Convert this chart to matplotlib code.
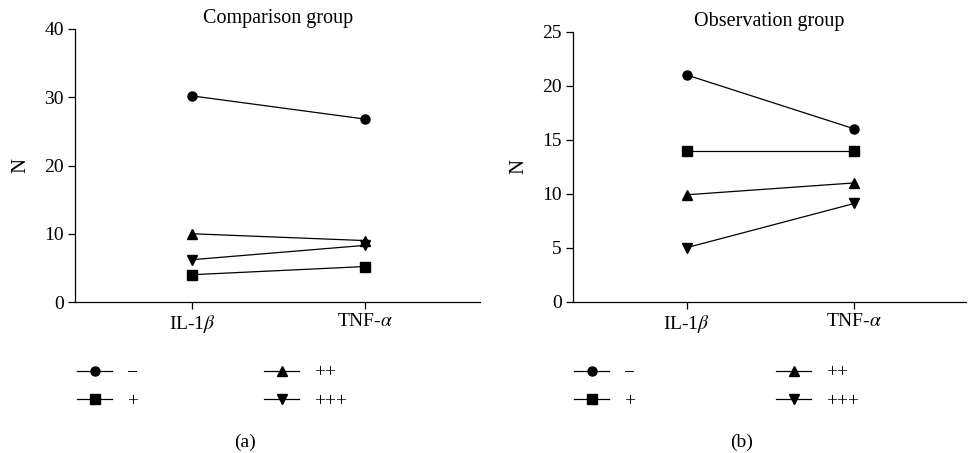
import matplotlib
matplotlib.use("Agg")
import matplotlib.pyplot as plt
from matplotlib.lines import Line2D

plt.rcParams["font.family"] = ["Liberation Serif", "DejaVu Serif"]
plt.rcParams["mathtext.fontset"] = "stix"
plt.rcParams["font.size"] = 14

categories = ["IL-1$\\beta$", "TNF-$\\alpha$"]
levels = ["\u2212", "+", "++", "+++"]
markers = ["o", "s", "^", "v"]

# comparison group
comp_neg = [30.2, 26.8]
comp_pos1 = [4.0, 5.2]
comp_pos2 = [10.0, 9.0]
comp_pos3 = [6.2, 8.3]

# observation group
obs_neg = [21.0, 16.0]
obs_pos1 = [14.0, 14.0]
obs_pos2 = [9.9, 11.0]
obs_pos3 = [5.0, 9.1]

panels = [
    ("Comparison group", [comp_neg, comp_pos1, comp_pos2, comp_pos3], 40, 10, "(a)"),
    ("Observation group", [obs_neg, obs_pos1, obs_pos2, obs_pos3], 25, 5, "(b)"),
]
axes_pos = [[0.0775, 0.3333, 0.4185, 0.6027], [0.592, 0.334, 0.406, 0.596]]
# legend column starts (figure px)
legend_cols = [(77, 264), (574, 776)]
label_x = [0.253, 0.766]

W, H = 968, 453
fig = plt.figure(figsize=(W / 100, H / 100), dpi=100)

for i, (title, series, ymax, step, tag) in enumerate(panels):
    ax = fig.add_axes(axes_pos[i])
    x = list(range(len(categories)))
    for vals, m in zip(series, markers):
        ax.plot(x, vals, color="black", linewidth=0.9, marker=m, markersize=6.5,
                clip_on=False)
    ax.set_xlim(-0.676, 1.665)
    ax.set_ylim(0, ymax)
    ax.set_yticks(range(0, ymax + 1, step))
    ax.set_xticks(x)
    ax.set_xticklabels(categories)
    ax.set_ylabel("N", fontsize=15, labelpad=10)
    ax.set_title(title, fontsize=14.5, pad=4)
    for s in ["top", "right"]:
        ax.spines[s].set_visible(False)
    for s in ["left", "bottom"]:
        ax.spines[s].set_linewidth(0.9)
    ax.tick_params(direction="out", length=5, width=0.9, labelsize=14, pad=3)

    handles = [Line2D([], [], color="black", linewidth=0.9, marker=m, markersize=6.5)
               for m in markers]
    for c in range(2):
        leg = fig.legend(handles[2 * c:2 * c + 2], levels[2 * c:2 * c + 2],
                         loc="upper left",
                         bbox_to_anchor=(legend_cols[i][c] / W, 1 - 364 / H),
                         ncol=1, frameon=False, handlelength=1.8,
                         handletextpad=0.75, labelspacing=0.55, fontsize=14,
                         borderpad=0, borderaxespad=0)
    fig.text(label_x[i], 1 - 442 / H, tag, ha="center", va="center", fontsize=14)

plt.savefig("out.png", dpi=100)
